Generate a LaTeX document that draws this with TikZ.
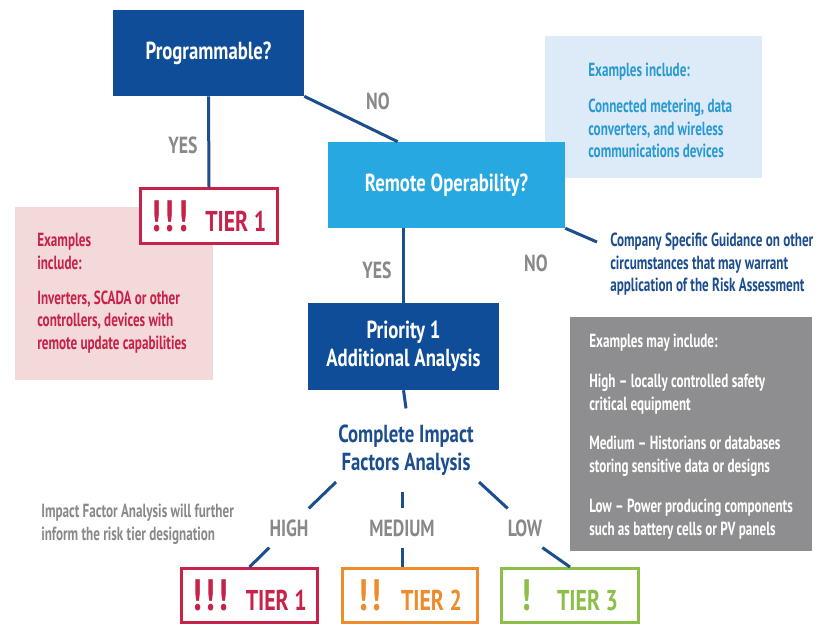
\documentclass[tikz,border=0pt]{standalone}
\usepackage{fontspec}
\setmainfont[FakeStretch=0.69]{PT Sans}
\newfontfamily\headfont[FakeStretch=0.76]{PT Sans}

\definecolor{navy}{HTML}{0F4D98}
\definecolor{sky}{HTML}{28A8E0}
\definecolor{skypale}{HTML}{DDEAF7}
\definecolor{skytext}{HTML}{2A9AD2}
\definecolor{rose}{HTML}{C6224A}
\definecolor{rosepale}{HTML}{F3D9D9}
\definecolor{amber}{HTML}{EE8C2B}
\definecolor{leaf}{HTML}{8CBF4A}
\definecolor{slate}{HTML}{8E8E90}
\definecolor{labelgray}{HTML}{898989}
\definecolor{linkblue}{HTML}{1C4E8E}

\newcommand\ttlfont{\headfont\fontsize{18.5}{21}\selectfont\bfseries}
\newcommand\txtfont{\fontsize{14.25}{16.9}\selectfont\bfseries}
\newcommand\lblfont{\headfont\fontsize{17.5}{19}\selectfont\bfseries}
\newcommand\tierfont{\headfont\fontsize{21.5}{26}\selectfont\bfseries}
\newcommand\bangfont{\headfont\fontsize{33}{36}\selectfont\bfseries}
\newcommand\bangs[1]{{\bangfont #1}}

\begin{document}
\begin{tikzpicture}[x=0.75pt,y=-0.75pt,
  question/.style={fill=navy, text=white, font=\ttlfont, inner sep=0, align=center},
  panel/.style={inner sep=0, draw=none},
  para/.style={anchor=west, align=left, inner sep=0, font=\txtfont},
  link/.style={draw=linkblue, line width=2.25pt},
  answer/.style={text=labelgray, font=\lblfont, inner xsep=0, inner ysep=8.5pt,
                 text height=12pt, text depth=0pt},
  tierbox/.style={draw=#1, line width=2.25pt, fill=white, text=#1, font=\tierfont,
                  minimum height=40.5pt, inner sep=0}
]
\useasboundingbox[fill=white] (0,0) rectangle (816,626);

% background panels
\node[panel, fill=rosepale, minimum width=148.5pt, minimum height=129.75pt] (roseback) at (114,293.5) {};
\node[panel, fill=skypale, minimum width=162.75pt, minimum height=106.5pt] (skyback) at (653.5,107) {};
\node[panel, fill=slate, minimum width=181.5pt, minimum height=175.5pt] (slateback) at (691,434) {};

% decision boxes
\node[question, minimum width=143.25pt, minimum height=64.5pt] (prog) at (208.5,53) {Programmable?};
\node[question, fill=sky, minimum width=177.75pt, minimum height=64.5pt] (remote) at (446.5,185) {Remote Operability?};
\node[question, minimum width=143.25pt, minimum height=65.25pt] (prio) at (403.5,346.5) {Priority 1\\Additional Analysis};
\node[text=linkblue, font=\ttlfont, align=center, inner xsep=0, inner ysep=12pt] (impact) at (406,450) {Complete Impact\\Factors Analysis};

% tier results
\node[tierbox=rose, minimum width=102.75pt, minimum height=41.25pt] (tierA) at (209,216) {\bangs{!\kern2.5pt!\kern2.5pt!}\hspace{13pt}TIER 1};
\node[tierbox=rose, minimum width=102pt] (tierB) at (249.5,595.5) {\bangs{!\kern2.5pt!\kern2.5pt!}\hspace{13pt}TIER 1};
\node[tierbox=amber, minimum width=101.25pt] (tierC) at (410,595.5) {\bangs{!\kern2.5pt!}\hspace{15pt}TIER 2};
\node[tierbox=leaf, minimum width=102.75pt] (tierD) at (570,595.5) {\bangs{!}\hspace{19pt}TIER 3};

% answer labels
\node[answer] (noA) at (378,101) {NO};
\node[answer] (yesA) at (183,145) {YES};
\node[answer] (yesB) at (377,270) {YES};
\node[answer] (noB) at (536,263) {NO};
\node[answer] (high) at (289,528) {HIGH};
\node[answer] (medium) at (402,528) {MEDIUM};
\node[answer] (low) at (525,528) {LOW};

% example texts
\node[para, text=skytext] (skyhead) at (588,72) {Examples include:};
\node[para, text=skytext] (skybody) at (588,128.5) {Connected metering, data\\converters, and wireless\\communications devices};
\node[para, text=rose] (rosehead) at (37,251.5) {Examples\\include:};
\node[para, text=rose] (rosebody) at (37,322) {Inverters, SCADA or other\\controllers, devices with\\remote update capabilities};
\node[para, text=linkblue] (guide) at (610,264.5) {Company Specific Guidance on other\\circumstances that may warrant\\application of the Risk Assessment};
\node[para, text=white] (slatehead) at (589,343) {Examples may include:};
\node[para, text=white] (slateA) at (589,394) {High -- locally controlled safety\\critical equipment};
\node[para, text=white] (slateB) at (589,456.5) {Medium -- Historians or databases\\storing sensitive data or designs};
\node[para, text=white] (slateC) at (589,519) {Low -- Power producing components\\such as battery cells or PV panels};
\node[para, text=labelgray] (note) at (41,524) {Impact Factor Analysis will further\\inform the risk tier designation};

% connectors
\coordinate (guidetip) at (597,242);
\coordinate (hiA) at (336,482);
\coordinate (loA) at (479,482);
\draw[link] (prog.south) -- (tierA.north);
\draw[link] (prog.south east) -- ([xshift=52.5pt]remote.north west);
\draw[link] (remote.south -| prio.north) -- (prio.north);
\draw[link] (remote.south east) -- (guidetip);
\draw[link] (prio.south) -- (impact.north);
\draw[link] (hiA) -- (high.north east);
\draw[link] (impact.south -| medium.north) -- (medium.north);
\draw[link] (loA) -- (low.north west);
\draw[link] (high.south west) -- (tierB.north);
\draw[link] (medium.south) -- (medium.south |- tierC.north);
\draw[link] (low.south east) -- (tierD.north);
\end{tikzpicture}
\end{document}
